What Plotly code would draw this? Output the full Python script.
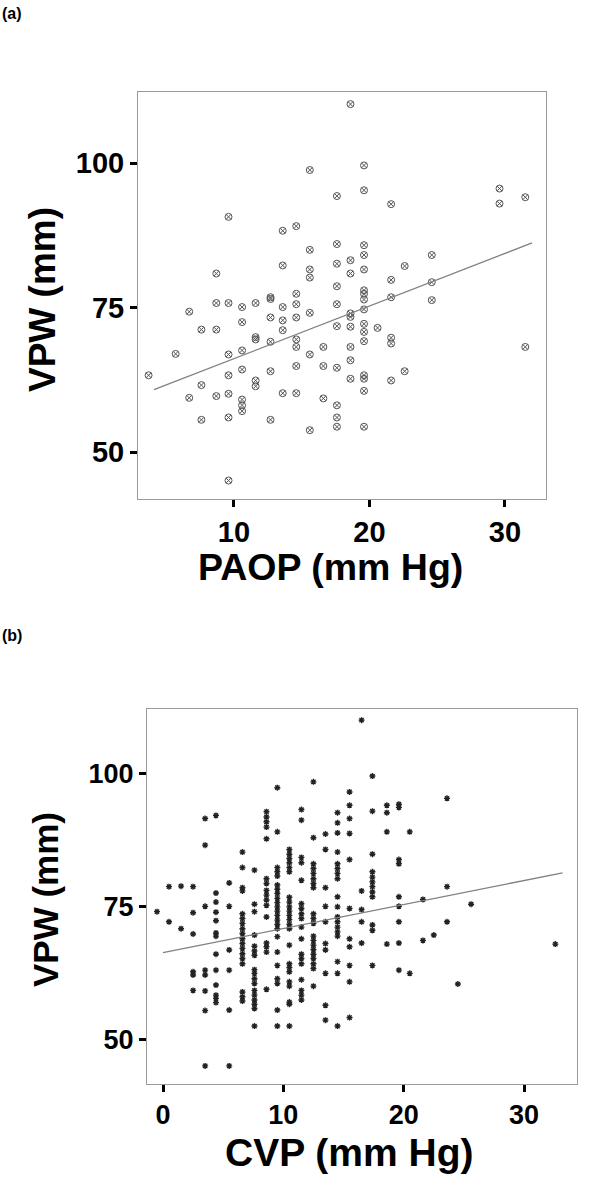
import plotly.graph_objects as go

# ---------------- Panel (a): PAOP vs VPW ----------------
paop_x = [3.7, 5.7, 6.7, 6.7, 7.6, 7.6, 7.6,
          8.7, 8.7, 8.7, 8.7,
          9.6, 9.6, 9.6, 9.6, 9.6, 9.6, 9.6,
          10.6, 10.6, 10.6, 10.6, 10.6, 10.6, 10.6,
          11.6, 11.6, 11.6, 11.6, 11.6,
          12.7, 12.7, 12.7, 12.7, 12.7, 12.7,
          13.6, 13.6, 13.6, 13.6, 13.6, 13.6,
          14.6, 14.6, 14.6, 14.6, 14.6, 14.6, 14.6, 14.6,
          15.6, 15.6, 15.6, 15.6, 15.6, 15.6, 15.6,
          16.6, 16.6, 16.6,
          17.6, 17.6, 17.6, 17.6, 17.6, 17.6, 17.6, 17.6, 17.6, 17.6,
          18.6, 18.6, 18.6, 18.6, 18.6, 18.6, 18.6, 18.6, 18.6,
          19.6, 19.6, 19.6, 19.6, 19.6, 19.6, 19.6, 19.6, 19.6, 19.6, 19.6, 19.6, 19.6, 19.6, 19.6, 19.6,
          20.6,
          21.6, 21.6, 21.6, 21.6, 21.6, 21.6,
          22.6, 22.6,
          24.6, 24.6, 24.6,
          29.6, 29.6,
          31.5, 31.5]
paop_vpw = [63.3, 67.0, 74.3, 59.4, 71.2, 61.6, 55.6,
            80.9, 75.8, 71.2, 59.7,
            90.7, 75.8, 66.9, 63.3, 60.1, 56.0, 45.1,
            75.1, 72.5, 67.6, 64.3, 59.1, 58.1, 57.1,
            75.8, 69.9, 69.5, 62.4, 61.4,
            76.8, 76.5, 73.3, 69.1, 64.0, 55.6,
            88.3, 82.3, 75.1, 72.8, 71.1, 60.2,
            89.1, 77.4, 75.6, 73.3, 69.5, 68.2, 64.9, 60.2,
            98.8, 85.0, 81.6, 80.2, 74.1, 66.9, 53.8,
            68.2, 64.9, 59.3,
            94.3, 86.0, 82.6, 78.7, 75.6, 71.8, 64.6, 58.1, 56.0, 54.4,
            110.2, 83.2, 80.9, 74.0, 73.4, 71.7, 68.2, 65.9, 62.7,
            99.6, 95.3, 85.8, 84.1, 81.6, 78.0, 77.4, 76.4, 74.7, 72.2, 70.8, 69.2, 63.3, 62.7, 60.6, 54.4,
            71.5,
            92.9, 79.8, 76.8, 69.8, 68.8, 62.4,
            82.2, 64.0,
            84.1, 79.4, 76.3,
            95.6, 93.0,
            94.1, 68.2]
paop_fit_x = [4.1, 32.0]
paop_fit_y = [60.8, 86.2]

# ---------------- Panel (b): CVP vs VPW ----------------
cvp_x = ([-0.5] + [0.5] * 2 + [1.5] * 2 + [2.5] * 6 + [3.5] * 8 + [4.4] * 13 + [5.5] * 6
         + [6.6] * 18 + [7.6] * 17 + [8.6] * 16 + [9.5] * 23 + [10.5] * 23 + [11.5] * 18
         + [12.5] * 20 + [13.5] * 10 + [14.5] * 18 + [15.5] * 11 + [16.5] * 5 + [17.4] * 12
         + [18.6] * 4 + [19.6] * 9 + [20.5] * 2 + [21.6] * 2 + [22.5] + [23.6] * 3
         + [24.5] + [25.6] + [32.6])
cvp_vpw = [74.1,
           78.8, 72.2,
           78.9, 70.9,
           78.8, 73.9, 69.9, 62.8, 62.2, 59.3,
           91.6, 86.6, 75.1, 63.1, 62.2, 59.2, 55.5, 45.1,
           92.2, 77.6, 75.9, 72.4, 70.1, 69.5, 66.1, 63.1, 60.3, 58.4, 57.8, 57.0, 74.0,
           79.5, 75.1, 66.9, 63.1, 55.6, 45.1,
           85.3, 82.4, 78.6, 78.0, 73.7, 72.8, 71.9, 70.9, 70.0, 69.0, 68.1, 67.2, 66.2, 65.3, 64.3, 59.0, 58.1, 57.3,
           81.9, 75.5, 74.1, 69.7, 67.6, 66.7, 65.9, 63.2, 62.5, 61.5, 60.6, 59.3, 58.4, 57.5, 56.7, 55.9, 52.6,
           92.9, 91.9, 91.0, 90.0, 87.8, 80.3, 79.4, 78.1, 77.2, 76.3, 75.3, 73.1, 68.2, 67.5, 66.5, 59.5,
           97.4, 89.1, 82.4, 81.6, 80.8, 79.1, 78.3, 77.5, 76.6, 75.8, 75.0, 74.2, 73.4, 72.5, 71.7, 70.9, 69.4, 66.5, 64.0, 61.5, 60.6, 55.6, 52.6,
           85.8, 84.9, 84.1, 83.3, 82.4, 81.6, 76.8, 75.9, 75.0, 74.2, 73.4, 72.6, 71.7, 70.9, 67.8, 64.3, 63.6, 62.8, 60.9, 60.1, 56.7, 52.6, 57.1,
           93.3, 91.3, 84.3, 83.3, 80.0, 75.6, 74.7, 73.7, 72.8, 71.2, 69.0, 66.1, 65.3, 64.3, 61.3, 59.3, 58.4, 57.5,
           98.5, 88.0, 83.1, 82.2, 81.3, 80.3, 79.4, 78.6, 73.7, 72.8, 71.9, 69.5, 68.7, 67.8, 67.0, 66.1, 65.3, 64.3, 63.4, 60.1,
           88.7, 85.8, 78.6, 75.1, 72.2, 68.1, 66.9, 62.5, 56.5, 53.7,
           92.7, 90.8, 88.9, 85.3, 83.1, 82.2, 81.3, 80.3, 76.9, 75.0, 73.1, 72.2, 71.2, 70.3, 69.5, 64.7, 62.5, 52.6,
           96.6, 94.1, 91.6, 88.8, 83.9, 74.7, 69.0, 67.5, 64.0, 60.9, 54.2,
           110.1, 78.0, 74.5, 72.2, 68.2,
           99.6, 93.0, 84.9, 81.6, 80.6, 79.7, 78.8, 77.8, 76.9, 71.6, 70.6, 64.0,
           94.1, 92.7, 89.1, 68.0,
           94.3, 93.7, 83.9, 83.1, 76.9, 75.1, 72.2, 68.2, 63.1,
           89.1, 62.5,
           76.4, 68.7,
           69.7,
           95.4, 78.8, 72.2,
           60.5,
           75.5,
           68.0]
cvp_fit_x = [0.0, 33.2]
cvp_fit_y = [66.4, 81.4]

tick_vals_y = [50, 75, 100]
tick_vals_xa = [10, 20, 30]
tick_vals_xb = [0, 10, 20, 30]

W, H = 600, 1178
FONT = "Liberation Sans, Arial, sans-serif"

fig = go.Figure()
fig.add_trace(go.Scatter(x=paop_x, y=paop_vpw, mode="markers", xaxis="x", yaxis="y",
                         marker=dict(symbol="circle-x-open", size=7, color="#555555",
                                     line=dict(width=1, color="#555555")), showlegend=False))
fig.add_trace(go.Scatter(x=paop_fit_x, y=paop_fit_y, mode="lines", xaxis="x", yaxis="y",
                         line=dict(color="#808080", width=1.3), showlegend=False))
fig.add_trace(go.Scatter(x=cvp_x, y=cvp_vpw, mode="markers", xaxis="x2", yaxis="y2",
                         marker=dict(symbol="asterisk-open", size=5, color="#222222",
                                     line=dict(width=1.4, color="#222222")), showlegend=False))
fig.add_trace(go.Scatter(x=cvp_fit_x, y=cvp_fit_y, mode="lines", xaxis="x2", yaxis="y2",
                         line=dict(color="#808080", width=1.3), showlegend=False))


def px_dom_x(a, b):
    return [a / W, b / W]


def px_dom_y(top, bottom):
    return [1 - bottom / H, 1 - top / H]


axis_common = dict(showline=True, mirror=True, linecolor="#9a9a9a", linewidth=1,
                   ticks="outside", tickwidth=3, ticklen=7, tickcolor="black",
                   showgrid=False, zeroline=False)

fig.update_layout(
    width=W, height=H, margin=dict(l=0, r=0, t=0, b=0),
    paper_bgcolor="white", plot_bgcolor="white",
    xaxis=dict(domain=px_dom_x(138, 546), range=[2.92, 33.03], anchor="y",
               tickvals=tick_vals_xa, tickfont=dict(family=FONT, size=29, color="black", weight="bold"),
               **axis_common),
    yaxis=dict(domain=px_dom_y(92, 499), range=[41.9, 112.3], anchor="x",
               tickvals=tick_vals_y, tickfont=dict(family=FONT, size=29, color="black", weight="bold"),
               **axis_common),
    xaxis2=dict(domain=px_dom_x(147, 577), range=[-1.33, 34.4], anchor="y2",
                tickvals=tick_vals_xb, tickfont=dict(family=FONT, size=27, color="black", weight="bold"),
                **axis_common),
    yaxis2=dict(domain=px_dom_y(709, 1084), range=[41.7, 112.2], anchor="x2",
                tickvals=tick_vals_y, tickfont=dict(family=FONT, size=27, color="black", weight="bold"),
                **axis_common),
)

annos = [
    dict(text="(a)", x=0 / W, y=1 - 13 / H, xanchor="left", yanchor="middle",
         font=dict(family=FONT, size=16, color="black", weight="bold")),
    dict(text="(b)", x=0 / W, y=1 - 635 / H, xanchor="left", yanchor="middle",
         font=dict(family=FONT, size=16, color="black", weight="bold")),
    dict(text="VPW (mm)", x=43 / W, y=1 - 300 / H, xanchor="center", yanchor="middle",
         textangle=-90, font=dict(family=FONT, size=37, color="black", weight="bold")),
    dict(text="PAOP (mm Hg)", x=330 / W, y=1 - 567 / H, xanchor="center", yanchor="middle",
         font=dict(family=FONT, size=37.5, color="black", weight="bold")),
    dict(text="VPW (mm)", x=45 / W, y=1 - 900 / H, xanchor="center", yanchor="middle",
         textangle=-90, font=dict(family=FONT, size=35, color="black", weight="bold")),
    dict(text="CVP (mm Hg)", x=349 / W, y=1 - 1152 / H, xanchor="center", yanchor="middle",
         font=dict(family=FONT, size=39, color="black", weight="bold")),
]
for a in annos:
    a.update(xref="paper", yref="paper", showarrow=False)
fig.update_layout(annotations=annos)

fig.write_html("out.html", config={"displayModeBar": False},
               post_script="document.body.style.margin='0';document.body.style.overflow='hidden';")
